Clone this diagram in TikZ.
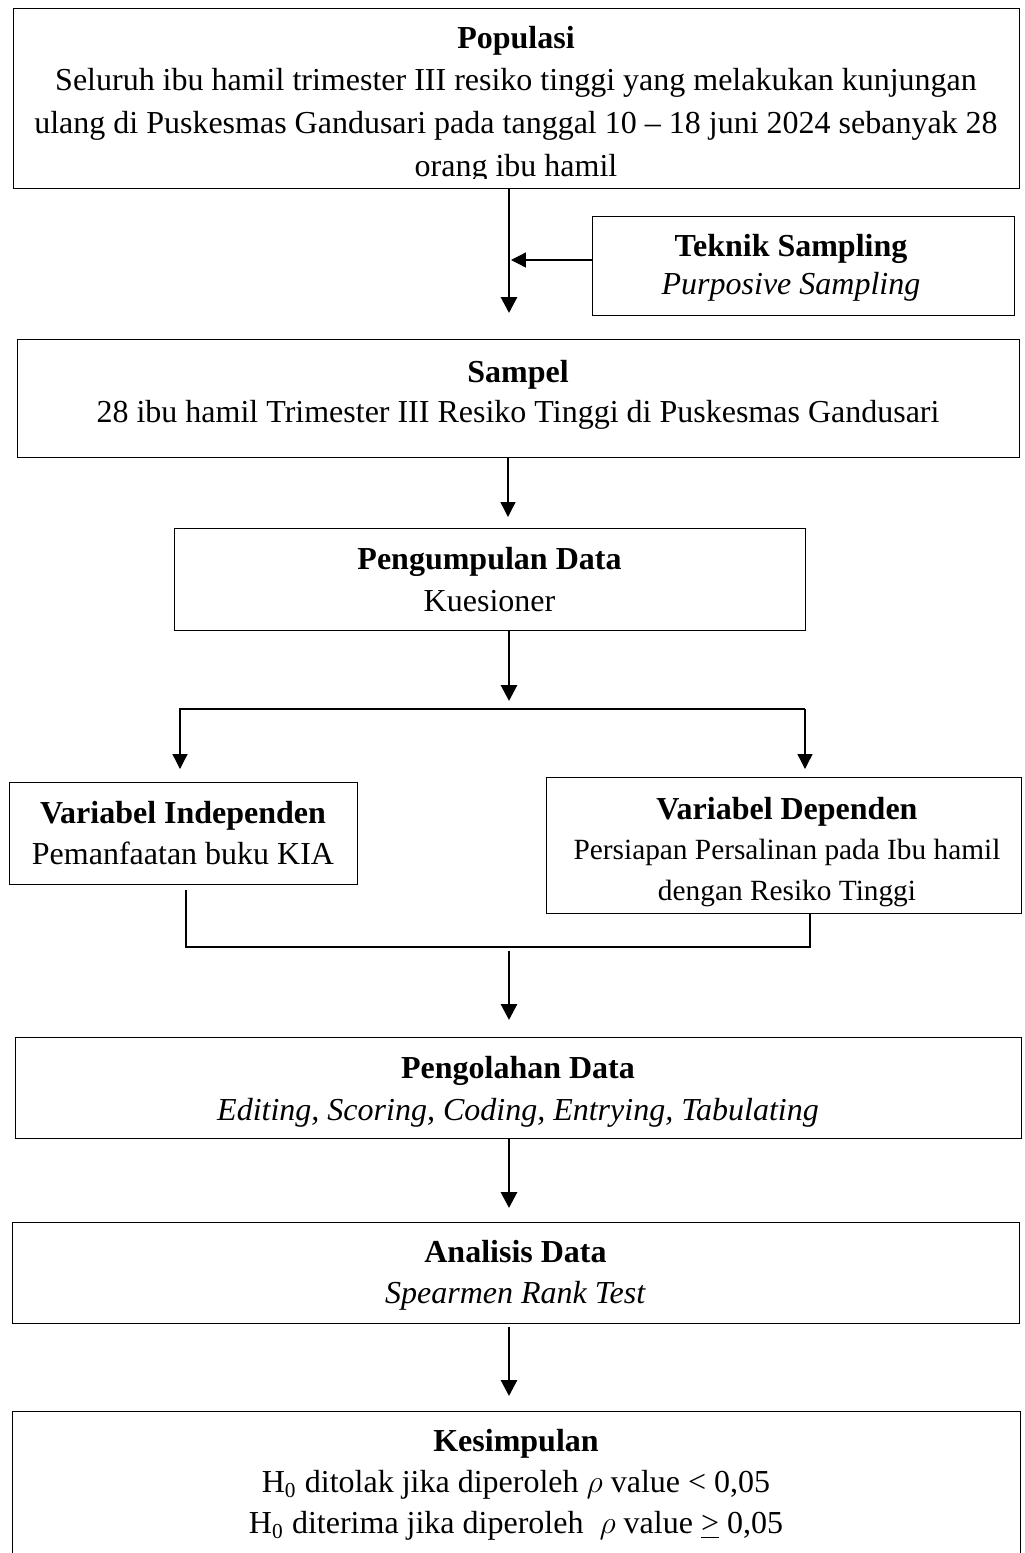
\documentclass[tikz,border=0pt]{standalone}
\usepackage{fontspec}
\setmainfont{Liberation Serif}
\usetikzlibrary{arrows.meta}
\newcommand\stk[2]{\vtop{\baselineskip=#1\relax\lineskiplimit=-100pt\lineskip=0pt\halign{\hfil##\hfil\cr#2\crcr}}}
\newcommand\smalltxt{\fontsize{11pt}{13pt}\selectfont}
\begin{document}
\begin{tikzpicture}[x=0.375pt,y=-0.375pt,
  bx/.style 2 args={draw=black, line width=0.5pt, rectangle, inner sep=0pt, anchor=north west, minimum width=#1*0.375pt, minimum height=#2*0.375pt},
  txt/.style={inner sep=0pt, anchor=base, font=\fontsize{12pt}{15pt}\selectfont},
  bigarr/.style={line width=1.1pt, -{Triangle[length=6pt,width=6pt]}},
  smallarr/.style={line width=0.5pt, -{Triangle[length=5.6pt,width=5.6pt]}},
  link/.style={line width=0.5pt}]
\useasboundingbox (0,0) rectangle (1024,1553);

% boxes
\node[bx={1006}{180}] (pop) at (13,8) {};
\begin{scope}
\clip (13,8) rectangle (1019,178);
\node[txt] (popt) at (516,48) {\stk{16pt}{\textbf{Populasi}\cr
Seluruh ibu hamil trimester III resiko tinggi yang melakukan kunjungan\cr
ulang di Puskesmas Gandusari pada tanggal 10 – 18 juni 2024 sebanyak 28\cr
orang ibu hamil}};
\end{scope}

\node[bx={422}{99}] (tek) at (592,216) {};
\node[txt] (tekt) at (791,256) {\stk{14.4pt}{\textbf{Teknik Sampling}\cr\textit{Purposive Sampling}}};

\node[bx={1002}{118}] (sam) at (17,339) {};
\node[txt] (samt) at (518,382) {\stk{15.2pt}{\textbf{Sampel}\cr
28 ibu hamil Trimester III Resiko Tinggi di Puskesmas Gandusari}};

\node[bx={631}{102}] (peng) at (174,528) {};
\node[txt] (pengt) at (489.5,569) {\stk{16.1pt}{\textbf{Pengumpulan Data}\cr Kuesioner}};

\node[bx={348}{102}] (ind) at (9,782) {};
\node[txt] (indt) at (183,823) {\stk{15.6pt}{\textbf{Variabel Independen}\cr Pemanfaatan buku KIA}};

\node[bx={475}{136}] (dep) at (546,777) {};
\node[txt] (dept) at (787,819) {\stk{15.2pt}{\textbf{Variabel Dependen}\cr
{\smalltxt Persiapan Persalinan pada Ibu hamil}\cr
{\smalltxt dengan Resiko Tinggi}}};

\node[bx={1006}{101}] (olah) at (15,1037) {};
\node[txt] (olaht) at (518,1078) {\stk{15.75pt}{\textbf{Pengolahan Data}\cr
\textit{Editing, Scoring, Coding, Entrying, Tabulating}}};

\node[bx={1007}{101}] (anal) at (12,1222) {};
\node[txt] (analt) at (515.5,1262) {\stk{15.5pt}{\textbf{Analisis Data}\cr
\textit{Spearmen Rank Test}}};

\node[bx={1008}{170}] (kes) at (12,1411) {};
\node[txt] (kest) at (516,1451) {\stk{15.5pt}{\textbf{Kesimpulan}\cr
H\textsubscript{0} ditolak jika diperoleh $\rho$ value < 0,05\cr
H\textsubscript{0} diterima jika diperoleh \ $\rho$ value \underline{>} 0,05}};

% connectors
\coordinate (a1) at (509,313);
\draw[bigarr] (pop.south -| a1) -- (a1);
\coordinate (a2) at (511,260);
\draw[smallarr] (tek.west |- a2) -- (a2);
\coordinate (a3) at (508,517);
\draw[smallarr] (sam.south -| a3) -- (a3);
\coordinate (a4) at (509,701);
\draw[bigarr] (peng.south -| a4) -- (a4);
\coordinate (s1) at (180,709);
\coordinate (s2) at (805,709);
\coordinate (t1) at (180,769);
\coordinate (t2) at (805,769);
\draw[smallarr] (s2) -- (s1) -- (t1);
\draw[smallarr] (s2) -- (t2);
\coordinate (j1) at (186,890);
\coordinate (j2) at (810,947);
\draw[link] (j1) -- (j1 |- j2) -- (j2) -- (dep.south -| j2);
\coordinate (a5s) at (509,951);
\coordinate (a5) at (509,1020);
\draw[bigarr] (a5s) -- (a5);
\coordinate (a6) at (509,1208);
\draw[bigarr] (olah.south -| a6) -- (a6);
\coordinate (a7s) at (509,1327);
\coordinate (a7) at (509,1396);
\draw[bigarr] (a7s) -- (a7);
\end{tikzpicture}
\end{document}
